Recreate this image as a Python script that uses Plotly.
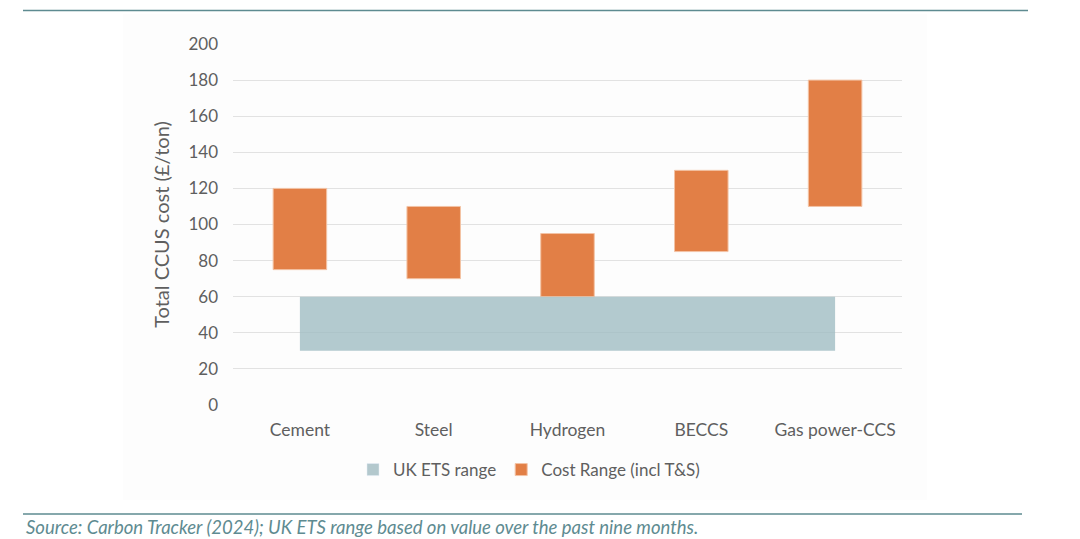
import plotly.graph_objects as go

categories = ["Cement", "Steel", "Hydrogen", "BECCS", "Gas power-CCS"]
cost_low = [75, 70, 60, 85, 110]
cost_high = [120, 110, 95, 130, 180]
ets_low = 30
ets_high = 60
y_ticks = [0, 20, 40, 60, 80, 100, 120, 140, 160, 180, 200]

W, H = 1080, 539
OFF = 8  # page body margin
L, R, T, B = 233 - OFF, 902 - OFF, 44 - OFF, 405 - OFF

def px_x(p):
    return (p - OFF - L) / (R - L)

def px_y(p):
    return (B - (p - OFF)) / (B - T)

FONT = "Lato"
GREY = "#5f5f5f"
TEAL = "#5e8b91"
ORANGE = "#e27f46"
BAND = "rgba(160,189,195,0.80)"

fig = go.Figure()

# UK ETS range band, spanning first to last category
fig.add_trace(go.Scatter(
    x=categories + categories[::-1],
    y=[ets_high] * len(categories) + [ets_low] * len(categories),
    fill="toself", fillcolor=BAND, mode="none",
    showlegend=False, hoverinfo="skip",
))
# legend entry for band
fig.add_trace(go.Bar(x=[None], y=[None], name="UK ETS range",
                     marker=dict(color="#b3c8cd")))

fig.add_trace(go.Bar(
    x=categories,
    y=[h - l for h, l in zip(cost_high, cost_low)],
    base=cost_low,
    width=0.4,
    name="Cost Range (incl T&S)",
    marker=dict(color=ORANGE, line=dict(color="#f3c3a5", width=1)),
))

fig.update_layout(
    width=W, height=H,
    margin=dict(l=L, r=W - R, t=T, b=H - B),
    paper_bgcolor="white",
    plot_bgcolor="rgba(0,0,0,0)",
    barmode="overlay",
    font=dict(family=FONT, size=17, color=GREY),
    showlegend=True,
    legend=dict(orientation="h", x=px_x(529), xanchor="center",
                y=px_y(470), yanchor="middle",
                font=dict(family=FONT, size=17, color=GREY),
                bgcolor="rgba(0,0,0,0)", traceorder="normal",
                itemwidth=30),
    xaxis=dict(type="category", range=[-0.5, 4.5], showgrid=False,
               zeroline=False, showline=False, ticks="",
               ticklabelstandoff=12,
               tickfont=dict(family=FONT, size=17.5, color=GREY)),
    yaxis=dict(range=[0, 200], tickvals=y_ticks, showgrid=True,
               gridcolor="#e2e2e2", gridwidth=1.3, zeroline=False,
               showline=False, ticks="", ticklabelstandoff=14,
               tickfont=dict(family=FONT, size=17, color=GREY),
               title=dict(text="Total CCUS cost (£/ton)", standoff=13,
                          font=dict(family=FONT, size=20, color=GREY))),
    shapes=[
        dict(type="rect", xref="paper", yref="paper", layer="below",
             x0=px_x(123), x1=px_x(927), y0=px_y(500), y1=px_y(14),
             fillcolor="#fdfdfd", line=dict(width=0)),
        dict(type="line", xref="paper", yref="paper",
             x0=px_x(23), x1=px_x(1028), y0=px_y(10.5), y1=px_y(10.5),
             line=dict(color=TEAL, width=1.5)),
        dict(type="line", xref="paper", yref="paper",
             x0=px_x(23), x1=px_x(1022), y0=px_y(514), y1=px_y(514),
             line=dict(color=TEAL, width=1.5)),
    ],
    annotations=[
        dict(text="<i>Source: Carbon Tracker (2024); UK ETS range based on value over the past nine months.</i>",
             xref="paper", yref="paper", x=px_x(24), y=px_y(527),
             xanchor="left", yanchor="middle", showarrow=False,
             font=dict(family=FONT, size=18.5, color=TEAL)),
    ],
)

fig.write_html("out.html")
